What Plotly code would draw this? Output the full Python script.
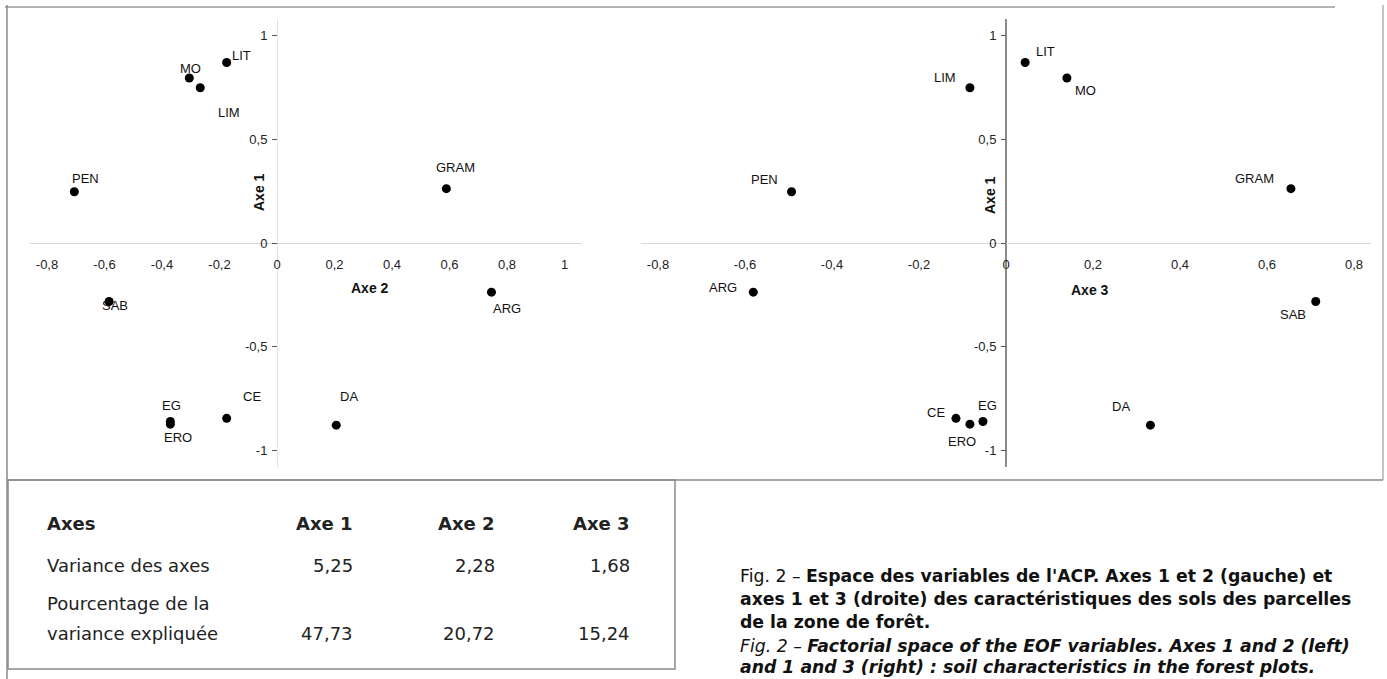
import plotly.graph_objects as go

# ---------------- data ----------------
variables = ["LIT", "MO", "LIM", "PEN", "GRAM", "SAB", "ARG", "EG", "ERO", "CE", "DA"]
axe1 = [0.87, 0.795, 0.748, 0.247, 0.262, -0.282, -0.237, -0.860, -0.873, -0.845, -0.878]
axe2 = [-0.175, -0.305, -0.267, -0.705, 0.589, -0.584, 0.746, -0.371, -0.371, -0.175, 0.206]
axe3 = [0.044, 0.140, -0.083, -0.493, 0.655, 0.712, -0.581, -0.053, -0.083, -0.115, 0.332]

x_ticks_left = [-0.8, -0.6, -0.4, -0.2, 0, 0.2, 0.4, 0.6, 0.8, 1]
x_labels_left = ["-0,8", "-0,6", "-0,4", "-0,2", "0", "0,2", "0,4", "0,6", "0,8", "1"]
x_ticks_right = [-0.8, -0.6, -0.4, -0.2, 0, 0.2, 0.4, 0.6, 0.8]
x_labels_right = ["-0,8", "-0,6", "-0,4", "-0,2", "0", "0,2", "0,4", "0,6", "0,8"]
y_ticks = [-1, -0.5, 0, 0.5, 1]
y_labels = ["-1", "-0,5", "0", "0,5", "1"]

table_header = ["Axes", "Axe 1", "Axe 2", "Axe 3"]
row_variance_label = "Variance des axes"
row_pct_label = ["Pourcentage de la", "variance expliquée"]
variance = [5.25, 2.28, 1.68]
pourcentage = [47.73, 20.72, 15.24]

caption_fr = [
    "Fig. 2 – <b>Espace des variables de l'ACP. Axes 1 et 2 (gauche) et</b>",
    "<b>axes 1 et 3 (droite) des caractéristiques des sols des parcelles</b>",
    "<b>de la zone de forêt.</b>",
]
caption_en = [
    "<i>Fig. 2 – <b>Factorial space of the EOF variables. Axes 1 and 2 (left)</b></i>",
    "<i><b>and 1 and 3 (right) : soil characteristics in the forest plots.</b></i>",
]

# ---------------- styles / layout helpers ----------------
W, H = 1387, 679
FONT = "Liberation Sans, Arial, Helvetica, sans-serif"
WIDE = "DejaVu Sans, Liberation Sans, sans-serif"

def fx(p):
    return p / W

def fy(p):
    return 1 - p / H

Y0, YS = 243, 207.5
XL0, XLS = 277, 287.5
XR0, XRS = 1006, 435
yr = [-1.08, 1.08]
xlr = [-0.86, 1.06]
xrr = [-0.84, 0.84]

ydom = [fy(Y0 - yr[0] * YS), fy(Y0 - yr[1] * YS)]
xldom = [fx(XL0 + xlr[0] * XLS), fx(XL0 + xlr[1] * XLS)]
xrdom = [fx(XR0 + xrr[0] * XRS), fx(XR0 + xrr[1] * XRS)]

off_left = {"LIT": (15, -7), "MO": (1, -10), "LIM": (29, 25), "PEN": (11, -13),
            "GRAM": (9, -21), "SAB": (6, 4), "ARG": (16, 16), "EG": (1, -16),
            "ERO": (8, 13), "CE": (25, -22), "DA": (13, -29)}
off_right = {"LIT": (20, -11), "MO": (19, 12), "LIM": (-25, -10), "PEN": (-27, -12),
             "GRAM": (-36, -10), "ARG": (-30, -5), "SAB": (-23, 13), "CE": (-20, -6),
             "ERO": (-8, 17), "EG": (5, -16), "DA": (-29, -19)}

fig = go.Figure()
fig.add_trace(go.Scatter(x=axe2, y=axe1, mode="markers", xaxis="x", yaxis="y",
                         marker=dict(size=9, color="black"), cliponaxis=False,
                         hoverinfo="skip", showlegend=False))
fig.add_trace(go.Scatter(x=axe3, y=axe1, mode="markers", xaxis="x2", yaxis="y2",
                         marker=dict(size=9, color="black"), cliponaxis=False,
                         hoverinfo="skip", showlegend=False))

ann = []
lab_font = dict(family=FONT, size=13, color="#111")
for name, a1, a2, a3 in zip(variables, axe1, axe2, axe3):
    dx, dy = off_left[name]
    ann.append(dict(x=a2, y=a1, xref="x", yref="y", text=name, showarrow=False,
                    xshift=dx, yshift=-dy, font=lab_font, xanchor="center", yanchor="middle"))
    dx, dy = off_right[name]
    ann.append(dict(x=a3, y=a1, xref="x2", yref="y2", text=name, showarrow=False,
                    xshift=dx, yshift=-dy, font=lab_font, xanchor="center", yanchor="middle"))

title_font = dict(family=FONT, size=14, color="#111")
for txt, px, py, ang in [("Axe 2", 370, 288, 0), ("Axe 3", 1090, 290, 0),
                         ("Axe 1", 259, 192, -90), ("Axe 1", 990, 195, -90)]:
    ann.append(dict(x=fx(px), y=fy(py), xref="paper", yref="paper", text="<b>" + txt + "</b>",
                    showarrow=False, font=title_font, textangle=ang,
                    xanchor="center", yanchor="middle"))

# table
tfont = dict(family=WIDE, size=18, color="#222")
col_right = [355, 497, 632]
ann.append(dict(x=fx(45), y=fy(523), xref="paper", yref="paper", text="<b>" + table_header[0] + "</b>",
                showarrow=False, xanchor="left", yanchor="middle", font=tfont))
for i in range(3):
    ann.append(dict(x=fx(col_right[i]), y=fy(523), xref="paper", yref="paper",
                    text="<b>" + table_header[i + 1] + "</b>", showarrow=False,
                    xanchor="right", yanchor="middle", font=tfont))
    ann.append(dict(x=fx(col_right[i]), y=fy(565), xref="paper", yref="paper",
                    text=f"{variance[i]:.2f}".replace(".", ","), showarrow=False,
                    xanchor="right", yanchor="middle", font=tfont))
    ann.append(dict(x=fx(col_right[i]), y=fy(633), xref="paper", yref="paper",
                    text=f"{pourcentage[i]:.2f}".replace(".", ","), showarrow=False,
                    xanchor="right", yanchor="middle", font=tfont))
for txt, py in [(row_variance_label, 565), (row_pct_label[0], 603), (row_pct_label[1], 633)]:
    ann.append(dict(x=fx(45), y=fy(py), xref="paper", yref="paper", text=txt,
                    showarrow=False, xanchor="left", yanchor="middle", font=tfont))

# caption
cfont = dict(family=WIDE, size=17.3, color="#111")
for line, py in zip(caption_fr + caption_en, [576, 599, 622, 646, 667]):
    ann.append(dict(x=fx(738), y=fy(py), xref="paper", yref="paper", text=line,
                    showarrow=False, xanchor="left", yanchor="middle", font=cfont))

line_col = "#8a8a8a"
shapes = [
    dict(type="line", xref="paper", yref="paper", x0=fx(5), x1=fx(1335), y0=fy(7), y1=fy(7),
         line=dict(color="#9a9a9a", width=1.5)),
    dict(type="line", xref="paper", yref="paper", x0=fx(7), x1=fx(7), y0=fy(5), y1=fy(679),
         line=dict(color=line_col, width=1.5)),
    dict(type="line", xref="paper", yref="paper", x0=fx(1383), x1=fx(1383), y0=fy(5), y1=fy(480),
         line=dict(color="#b0b0b0", width=1.5)),
    dict(type="line", xref="paper", yref="paper", x0=fx(7), x1=fx(1383), y0=fy(480), y1=fy(480),
         line=dict(color=line_col, width=1.5)),
    dict(type="rect", xref="paper", yref="paper", x0=fx(8), x1=fx(675), y0=fy(480), y1=fy(669),
         line=dict(color=line_col, width=1.5)),
]

tick_font = dict(family=FONT, size=13, color="#222")
common_x = dict(showgrid=False, showline=False, ticks="", tickfont=tick_font,
                anchor="free", position=fy(Y0), ticklabelstandoff=12, fixedrange=True)
common_y = dict(showgrid=False, showline=False, ticks="outside", ticklen=5, tickcolor="#555",
                tickfont=tick_font, anchor="free", tickvals=y_ticks, ticktext=y_labels,
                range=yr, domain=ydom, fixedrange=True, ticklabelstandoff=2)

fig.update_layout(
    width=W, height=H, margin=dict(l=0, r=0, t=0, b=0),
    paper_bgcolor="white", plot_bgcolor="rgba(0,0,0,0)",
    font=dict(family=FONT),
    separators=", ",
    xaxis=dict(domain=xldom, range=xlr, tickvals=x_ticks_left, ticktext=x_labels_left,
               zeroline=True, zerolinecolor="#e2e2e2", zerolinewidth=1, **common_x),
    xaxis2=dict(domain=xrdom, range=xrr, tickvals=x_ticks_right, ticktext=x_labels_right,
                zeroline=True, zerolinecolor="#8c8c8c", zerolinewidth=1.5, **common_x),
    yaxis=dict(position=fx(XL0), zeroline=True, zerolinecolor="#d8d8d8", zerolinewidth=1,
               **common_y),
    yaxis2=dict(position=fx(XR0), zeroline=True, zerolinecolor="#d8d8d8", zerolinewidth=1,
                **common_y),
    annotations=ann,
    shapes=shapes,
    showlegend=False,
)

fig.write_html("out.html", config={"displayModeBar": False},
               post_script="document.body.style.margin='0';document.body.style.overflow='hidden';")
